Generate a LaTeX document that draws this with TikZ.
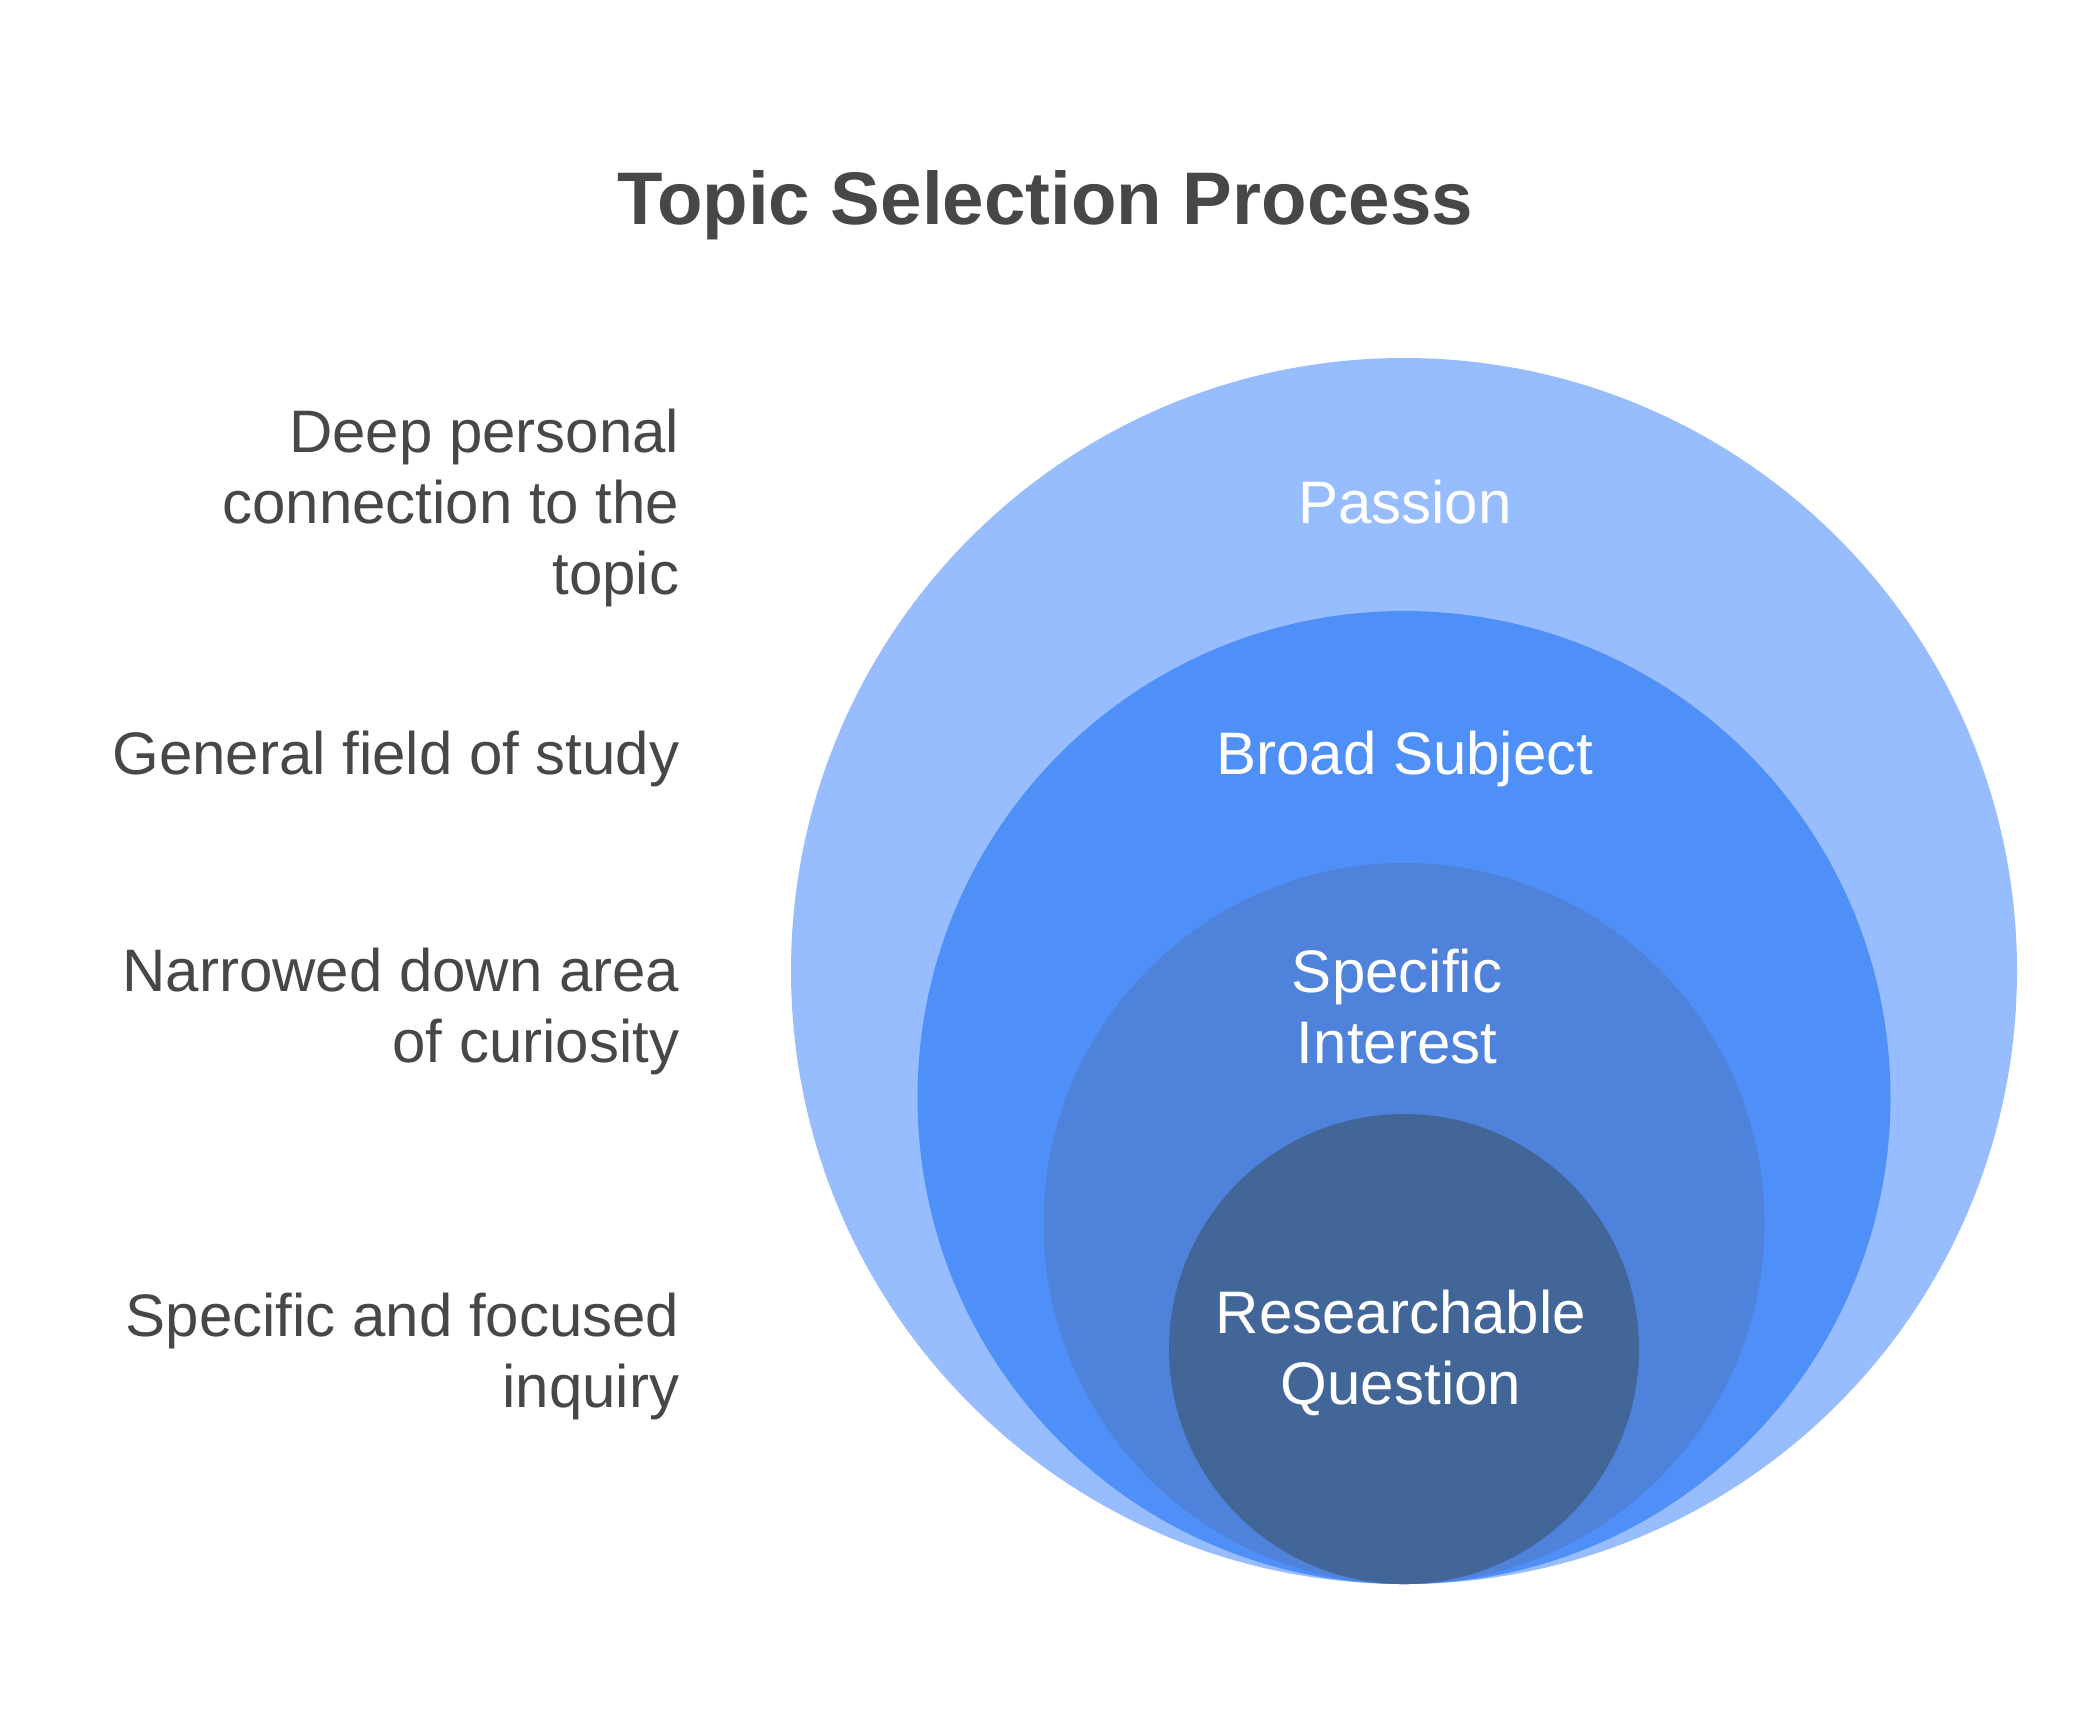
\documentclass[tikz,border=0pt]{standalone}
\usepackage{fontspec}
\setmainfont{Liberation Sans}
\definecolor{passionblue}{HTML}{97BDFE}
\definecolor{broadblue}{HTML}{4F8FF8}
\definecolor{interestblue}{HTML}{4F82DA}
\definecolor{questionblue}{HTML}{436699}
\definecolor{textgrey}{HTML}{474747}
\tikzset{
  ring/.style={inner sep=0pt, text=white, align=center,
    font=\fontsize{17.07pt}{20.2pt}\selectfont},
  side/.style={inner sep=0pt, anchor=east, align=right, text=textgrey,
    font=\fontsize{17.07pt}{20.2pt}\selectfont}
}
\begin{document}
\begin{tikzpicture}[x=0.1mm, y=-0.1mm]

\useasboundingbox (0,0) rectangle (2088,1729);

% title
\node[text=textgrey, inner sep=0pt, font=\fontsize{21.2pt}{25pt}\selectfont\bfseries] (title) at (1045,205) {Topic Selection Process};

% nested circles, all touching at the bottom
\fill[passionblue] (1404,971) circle[radius=6.13cm];
\fill[broadblue] (1404,1097.5) circle[radius=4.865cm];
\fill[interestblue] (1404,1223.5) circle[radius=3.605cm];
\fill[questionblue] (1404,1349) circle[radius=2.35cm];

% circle labels
\node[ring] (passion) at (1405,502) {Passion};
\node[ring] (broad) at (1405,759) {Broad Subject};
\node[ring] (interest) at (1397,1007) {Specific\\Interest};
\node[ring] (question) at (1401,1353) {Researchable\\Question};

% descriptions
\node[side] (passiondesc) at (680,508) {Deep personal\\connection to the\\topic};
\node[side] (broaddesc) at (680,759) {General field of study};
\node[side] (interestdesc) at (680,1011) {Narrowed down area\\of curiosity};
\node[side] (questiondesc) at (680,1356) {Specific and focused\\inquiry};

\end{tikzpicture}
\end{document}
